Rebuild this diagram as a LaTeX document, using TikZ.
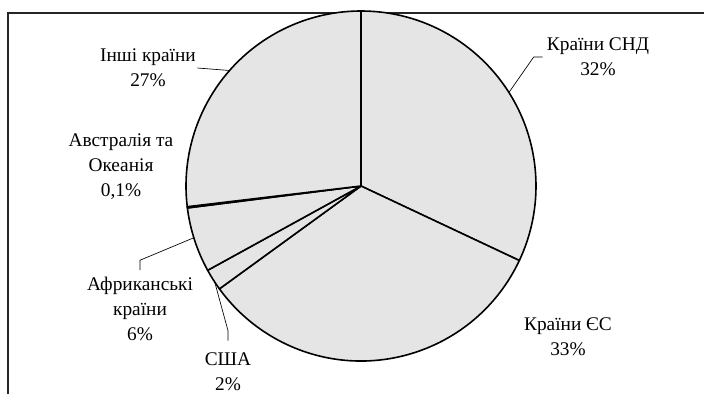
\documentclass[tikz,border=0pt]{standalone}
\usepackage{fontspec}
\setmainfont{Liberation Serif}
\usepackage{tikz}
\usetikzlibrary{positioning}
\definecolor{sliceColor}{rgb}{0.9,0.9,0.9}
\definecolor{frameColor}{rgb}{0.15,0.15,0.15}

\begin{document}
\begin{tikzpicture}[x=0.75pt,y=0.75pt]

          \tikzstyle{labelNode} = [align=center, inner sep=1pt, font=\fontsize{14.5pt}{18.75pt}\selectfont];
          \tikzstyle{sliceEdge} = [line width=1.2pt, line join=round, fill=sliceColor, draw=black];
          \tikzstyle{leaderEdge} = [line width=0.5pt];
          \tikzstyle{frameEdge} = [line width=0.9pt, frameColor];

          \useasboundingbox (-361,-208) rectangle (343,186);

          % frame
          \draw[frameEdge] (-353,-208) -- (-353,173) -- (343,173);

          % slices
          \coordinate (c) at (0,0);
          \filldraw[sliceEdge] (c) -- (90:175) arc[start angle=90, end angle=-25.2, radius=175] -- cycle;
          \filldraw[sliceEdge] (c) -- (-25.2:175) arc[start angle=-25.2, end angle=-144, radius=175] -- cycle;
          \filldraw[sliceEdge] (c) -- (-144:175) arc[start angle=-144, end angle=-151.2, radius=175] -- cycle;
          \filldraw[sliceEdge] (c) -- (-151.2:175) arc[start angle=-151.2, end angle=-172.8, radius=175] -- cycle;
          \filldraw[sliceEdge] (c) -- (-172.8:175) arc[start angle=-172.8, end angle=-173.2, radius=175] -- cycle;
          \filldraw[sliceEdge] (c) -- (-173.2:175) arc[start angle=-173.2, end angle=-270, radius=175] -- cycle;

          % labels
          \node[labelNode] (snd) at (237,129) {Країни СНД\\32\%};
          \node[labelNode] (es) at (207,-151) {Країни ЄС\\33\%};
          \node[labelNode] (usa) at (-133,-186) {США\\2\%};
          \node[labelNode] (afr) at (-221,-123) {Африканські\\країни\\6\%};
          \node[labelNode] (aus) at (-240,19) {Австралія та\\Океанія\\0,1\%};
          \node[labelNode] (other) at (-213,118) {Інші країни\\27\%};

          % leaders
          \coordinate (sndPt) at (32.3:175);
          \coordinate (otherPt) at (138.7:175);
          \coordinate (afrPt) at (197.2:175);
          \coordinate (usaPt) at (213.3:175);

          \draw[leaderEdge] ([xshift=-2pt]snd.west) -- ++(-9,0) -- (sndPt);
          \draw[leaderEdge] (other.east) -- (otherPt);
          \draw[leaderEdge] ([yshift=4pt]afr.north) -- ++(0,10) -- (afrPt);
          \draw[leaderEdge] ([yshift=8pt]usa.north) -- ++(0,10) -- (usaPt);
        \end{tikzpicture}
\end{document}
